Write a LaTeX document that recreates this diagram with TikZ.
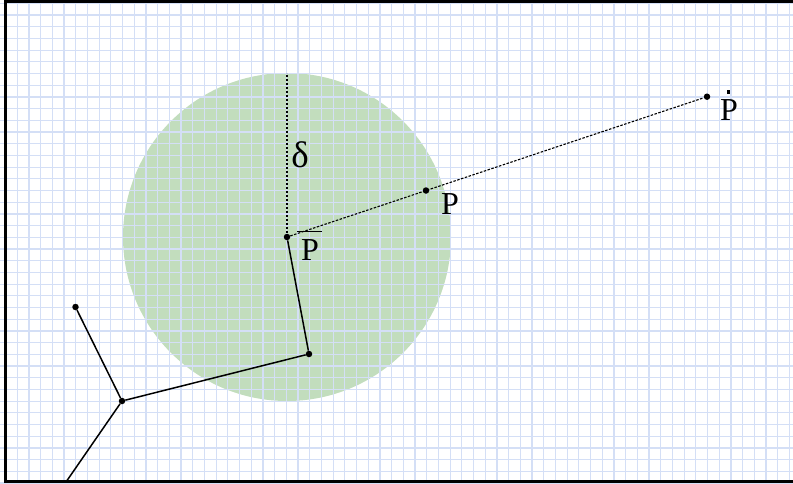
\documentclass[tikz,border=0pt]{standalone}
\usepackage{fontspec}
\setmainfont{Liberation Serif}
\usetikzlibrary{positioning}
\definecolor{gridblue}{RGB}{212,223,246}
\definecolor{zonegreen}{RGB}{194,221,189}
\newcommand{\barP}{\leavevmode\rlap{\kern-0.12em\raisebox{0.86em}{\rule{0.78em}{1.4pt}}}P}
\newcommand{\dotP}{\leavevmode\rlap{\kern0.21em\raisebox{0.84em}{\rule{3.6pt}{3.6pt}}}P}

\begin{document}
\begin{tikzpicture}[x=1pt, y=-1pt,
    dot/.style={circle, fill=black, inner sep=0pt, minimum size=6.5pt},
    lbl/.style={inner sep=0pt, font=\fontsize{32}{34}\selectfont},
    gridline/.style={draw=gridblue, line width=1.2pt},
    link/.style={draw, black, line width=1.5pt},
    ray/.style={draw, black, line width=1.1pt, dash pattern=on 2.5pt off 1.5pt},
    deltaline/.style={draw, black, line width=2.4pt, dash pattern=on 2pt off 2pt}]

    \useasboundingbox (0,0) rectangle (793,483);

    % disc of radius delta round the reference point
    \coordinate (centre) at (287,237);
    \coordinate (top) at (287,73);
    \fill[zonegreen] (centre) circle (164);

    % squared paper
    \foreach \k in {0,...,67}
        \draw[gridline] ({5.5+11.7*\k},0) -- ({5.5+11.7*\k},483);
    \foreach \k in {0,...,41}
        \draw[gridline] (0,{3.3+11.7*\k}) -- (793,{3.3+11.7*\k});

    \node[dot] (pbar) at (centre) {};
    \node[dot] (p) at (426,190.5) {};
    \node[dot] (pdot) at (707,96.7) {};
    \node[dot] (v1) at (309,354) {};
    \node[dot] (v2) at (122,401) {};
    \node[dot] (v3) at (75.5,307) {};
    \coordinate (tail) at (66,482);

    \draw[link] (pbar) -- (v1) -- (v2) -- (v3);
    \draw[link] (v2) -- (tail);
    \draw[ray] (pbar) -- (pdot);
    \draw[deltaline] (pbar.center) -- (top);

    \node[lbl, font=\fontsize{37}{38}\selectfont] (deltalbl) at (300,155) {δ};
    \node[lbl, anchor=base] (pbarlbl) at (310,260) {\barP};
    \node[lbl, anchor=base] (plbl) at (450,214) {P};
    \node[lbl, anchor=base] (pdotlbl) at (729,120.5) {\dotP};

    % frame, open on the right
    \draw[line width=3.2pt] (800,1.5) -- (5.5,1.5) -- (5.5,481.5) -- (800,481.5);
\end{tikzpicture}
\end{document}
